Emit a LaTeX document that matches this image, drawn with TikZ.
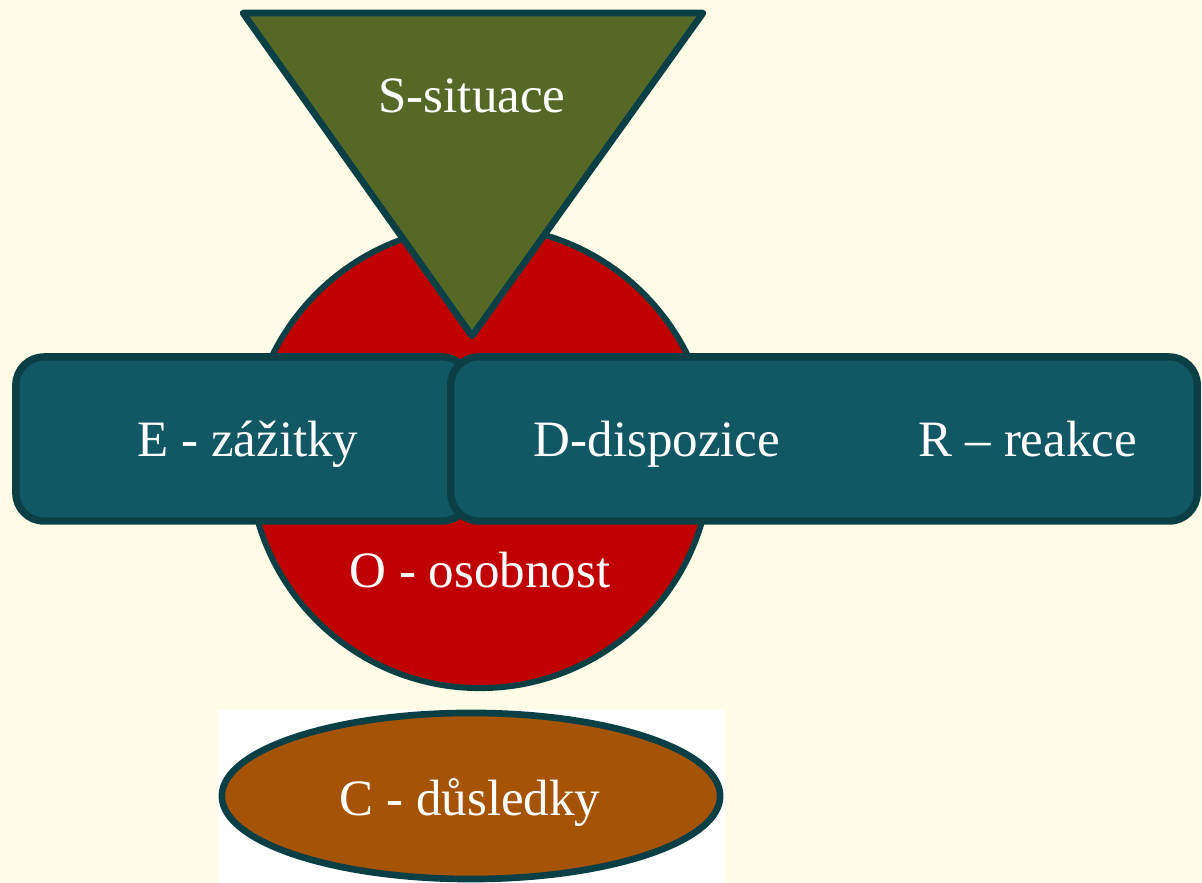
\documentclass[tikz,border=0pt]{standalone}
\usepackage{fontspec}
\setmainfont{Liberation Serif}
\usepackage{tikz}
\usepackage{xcolor}
\usetikzlibrary{shapes.geometric}
\definecolor{fondo}{HTML}{FFFDE8}
\definecolor{borde}{HTML}{0B3F46}
\definecolor{azul}{HTML}{125764}
\definecolor{rojo}{HTML}{C00000}
\definecolor{oliva}{HTML}{566826}
\definecolor{naranja}{HTML}{A55405}

\begin{document}
\begin{tikzpicture}[x=0.01cm,y=-0.01cm,
                    caja/.style={draw=borde,line width=2.1pt,fill=azul,rounded corners=0.28cm},
                    texto/.style={anchor=base,text=white,font=\fontsize{14.5}{17}\selectfont}]
                    \fill[fondo] (0,0) rectangle (1202,883);
                    \useasboundingbox (0,0) rectangle (1202,883);
                    % circulo y triangulo
                    \node[circle,draw=borde,line width=1.7pt,fill=rojo,minimum size=4.62cm] (osob) at (480,457) {};
                    \filldraw[draw=borde,line width=1.9pt,fill=oliva,line join=round]
                        (243,13) -- (703,13) -- (472,336) -- cycle;
                    % cajas
                    \node[caja,minimum width=4.54cm,minimum height=1.64cm] (zaz) at (243,439) {};
                    \node[caja,minimum width=7.46cm,minimum height=1.64cm] (disp) at (824,439) {};
                    % elipse
                    \fill[white] (218,710) rectangle (725,883);
                    \node[ellipse,draw=borde,line width=1.9pt,fill=naranja,minimum width=4.98cm,minimum height=1.66cm] (dus) at (471,796) {};
                    % textos
                    \node[texto] (s) at (472,113) {S-situace};
                    \node[texto] (e) at (248,457) {E - zážitky};
                    \node[texto] (d) at (657,457) {D-dispozice};
                    \node[texto] (r) at (1028,457) {R – reakce};
                    \node[texto] (o) at (480,588) {O - osobnost};
                    \node[texto] (c) at (470,816) {C - důsledky};
                \end{tikzpicture}
\end{document}
